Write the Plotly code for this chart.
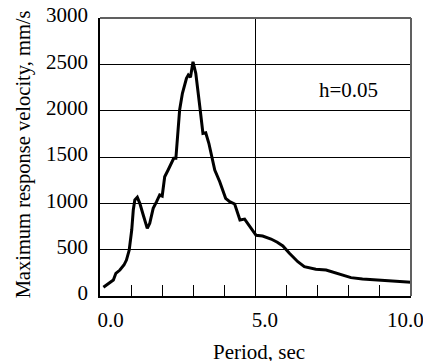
import plotly.graph_objects as go

# Data
period = [0.11, 0.27, 0.43, 0.51, 0.64, 0.77, 0.85, 0.94, 1.02, 1.07, 1.12, 1.2, 1.28, 1.39,
          1.52, 1.6, 1.71, 1.82, 1.92, 2.0, 2.08, 2.19, 2.3, 2.37, 2.44, 2.56, 2.65, 2.78,
          2.84, 2.91, 2.99, 3.08, 3.21, 3.31, 3.40, 3.5, 3.69, 3.85, 4.04, 4.17, 4.33, 4.45,
          4.5, 4.65, 4.8, 4.9, 5.02, 5.23, 5.5, 5.7, 5.88, 6.09, 6.36, 6.57, 6.94, 7.27,
          7.64, 8.07, 8.44, 8.97, 9.51, 10.0]
velocity = [94, 137, 173, 245, 280, 334, 388, 496, 712, 928, 1036, 1065, 1000, 874,
            730, 784, 946, 1018, 1090, 1079, 1287, 1360, 1432, 1486, 1486, 2007, 2187, 2349,
            2385, 2360, 2528, 2403, 2042, 1755, 1762, 1648, 1360, 1233, 1054, 1018, 993, 870,
            820, 830, 760, 700, 655, 647, 615, 580, 540, 461, 370, 316, 288, 281,
            245, 198, 183, 173, 162, 148]

y_ticks = [0, 500, 1000, 1500, 2000, 2500, 3000]
x_tick_labels = ["0.0", "5.0", "10.0"]
x_label_pos = [0.34, 5.3, 9.82]
x_minor_ticks = [1, 2, 3, 4, 6, 7, 8, 9]
x_grid = 5

FONT = '"Liberation Serif", "Times New Roman", Times, serif'

fig = go.Figure()
fig.add_trace(go.Scatter(x=period, y=velocity, mode="lines",
                         line=dict(color="black", width=3), showlegend=False))

# page has an 8px body margin, so the figure is sized/offset to compensate
fig.update_layout(
    width=423, height=353,
    margin=dict(l=92, r=20, t=10, b=65, autoexpand=False),
    paper_bgcolor="white", plot_bgcolor="white",
    font=dict(family=FONT, size=21, color="black"),
    xaxis=dict(range=[0, 10], tickvals=x_label_pos, ticktext=x_tick_labels,
               ticks="", showgrid=False, zeroline=False, automargin=False,
               showline=True, linecolor="black", linewidth=1.5,
               ticklabelstandoff=4, ticklabeloverflow="allow",
               minor=dict(tickvals=x_minor_ticks, ticks="inside", ticklen=11,
                          tickcolor="black", tickwidth=1, showgrid=False)),
    yaxis=dict(range=[0, 3000], tickvals=y_ticks, ticks="", automargin=False,
               showgrid=True, gridcolor="black", gridwidth=1, zeroline=False,
               showline=True, linecolor="black", linewidth=1.5,
               ticklabelstandoff=6, ticklabelshift=-3, ticklabeloverflow="allow"),
    shapes=[
        dict(type="line", xref="x", yref="paper", x0=x_grid, x1=x_grid, y0=0, y1=1,
             line=dict(color="black", width=1), layer="below"),
        dict(type="line", xref="paper", yref="paper", x0=0, x1=1, y0=1, y1=1,
             line=dict(color="#606060", width=2)),
        dict(type="line", xref="paper", yref="paper", x0=1, x1=1, y0=0, y1=1,
             line=dict(color="#606060", width=2)),
    ],
    annotations=[
        dict(text="h=0.05", xref="x", yref="y", x=8.0, y=2222, showarrow=False,
             font=dict(size=21)),
        dict(text="Period, sec", xref="paper", yref="paper", x=0.511, y=-0.2,
             xanchor="center", yanchor="middle", showarrow=False),
        dict(text="Maximum response velocity, mm/s", xref="paper", yref="paper",
             x=-0.243, y=0.511, textangle=-90, xanchor="center", yanchor="middle",
             showarrow=False, font=dict(size=20.5)),
    ],
)

fig.write_html("out.html")
